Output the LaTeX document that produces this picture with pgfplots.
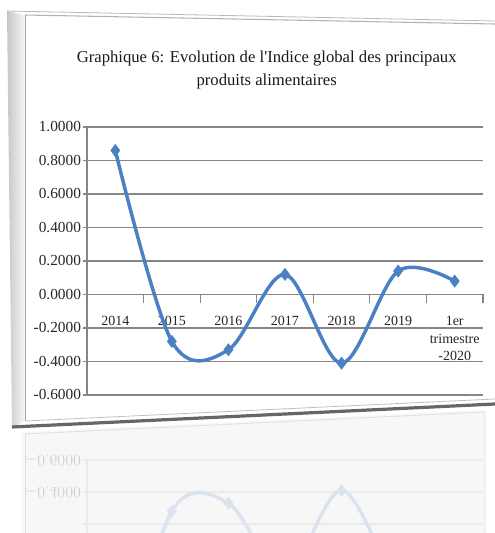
\documentclass[border=0pt]{standalone}
\usepackage{pgfplots}
\pgfplotsset{compat=1.18}
\usepackage{fontspec}
\setmainfont{Liberation Serif}
\definecolor{exblue}{RGB}{74,128,196}
\definecolor{gridg}{RGB}{134,134,134}
\begin{document}
\begin{tikzpicture}
\useasboundingbox (0,0) rectangle (371.25pt,399.75pt);
% frame drawn in pixel coordinates
\begin{scope}[shift={(0,399.75pt)}, x=0.75pt, y=-0.75pt]
  \shade[left color=gray!45, right color=gray!5] (7,11) -- (25,15) -- (25,421) -- (12,428) -- cycle;
  \draw[gray!55, line width=0.6pt] (7,11) -- (495,21);
  \draw[gray!60, line width=0.8pt] (25,15) -- (495,24);
  \draw[gray!70, line width=0.6pt] (25,15) -- (25,421);
  \draw[black!60, line width=2.4pt] (12,427) -- (495,404);
  \draw[gray!50, line width=0.6pt] (25,421) -- (495,399);
  % reflection frame
  \fill[gray!6] (22,432) -- (485,410) -- (485,533) -- (22,533) -- cycle;
  \draw[gray!25, line width=0.6pt] (25,434) -- (485,412) -- (485,533);
  \draw[gray!25, line width=0.6pt] (25,434) -- (25,533);
\end{scope}
\begin{axis}[
  at={(65.25pt,103.5pt)}, anchor=south west,
  scale only axis, width=297pt, height=201pt,
  xmin=-0.5, xmax=6.5, ymin=-0.6, ymax=1.0,
  axis x line*=middle, axis y line*=left,
  axis line style={gridg, line width=0.9pt, -},
  xtick={0,...,6},
  xticklabels={2014,2015,2016,2017,2018,2019,{1er\\trimestre\\-2020}},
  xticklabel style={align=center, anchor=north, yshift=-10pt, font=\fontsize{10.5}{13}\selectfont, text=black!85},
  major x tick style={draw=none},
  minor xtick={-0.5,0.5,...,6.5},
  minor x tick style={gridg, line width=0.9pt},
  minor tick length=6pt,
  ytick={-0.6,-0.4,...,1.01},
  yticklabel style={/pgf/number format/.cd, fixed, fixed zerofill, precision=4, /tikz/.cd, font=\fontsize{11.5}{13}\selectfont, text=black!85, xshift=2pt},
  /pgf/number format/assume math mode=true,
  ytick style={gridg, line width=0.9pt},
  tick align=outside, major tick length=3pt,
  ymajorgrids, grid style={gridg, line width=1pt},
  clip=false,
]
\addplot[exblue, line width=2.6pt, smooth, tension=0.55,
  mark=diamond*, mark size=4.5pt, mark options={fill=exblue, line width=0.5pt}]
  coordinates {(0,0.86) (1,-0.28) (2,-0.33) (3,0.12) (4,-0.41) (5,0.14) (6,0.08)};
\end{axis}
% reflection
\begin{scope}
\clip (0,0) rectangle (371.25pt,74pt);
\begin{scope}[transparency group, opacity=0.16]
\begin{axis}[
  at={(65.25pt,54.75pt)}, anchor=north west,
  scale only axis, width=297pt, height=192pt,
  y dir=reverse,
  xmin=-0.5, xmax=6.5, ymin=-0.6, ymax=1.0,
  axis x line*=middle, axis y line*=left,
  axis line style={gridg, line width=0.9pt, -},
  xtick=\empty,
  ytick={-0.6,-0.4,...,1.01},
  yticklabels={$-0.6000$,$-0.4000$,,,,,,,,},
  yticklabel style={font=\fontsize{11.5}{13}\selectfont, yscale=-1, xshift=2pt},
  ytick style={gridg, line width=0.9pt},
  tick align=outside, major tick length=3pt,
  ymajorgrids, grid style={gridg, line width=1pt},
  clip=false,
]
\addplot[exblue, line width=2.6pt, smooth, tension=0.55,
  mark=diamond*, mark size=4.5pt, mark options={fill=exblue, line width=0.5pt}]
  coordinates {(0,0.86) (1,-0.28) (2,-0.33) (3,0.12) (4,-0.41) (5,0.14) (6,0.08)};
\end{axis}
\end{scope}
\end{scope}
\node[align=center, font=\fontsize{12.5}{17}\selectfont, text=black!90] at (200pt,347.5pt)
  {Graphique 6: Evolution de l\textquotesingle Indice global des principaux\\produits alimentaires};
\end{tikzpicture}
\end{document}
